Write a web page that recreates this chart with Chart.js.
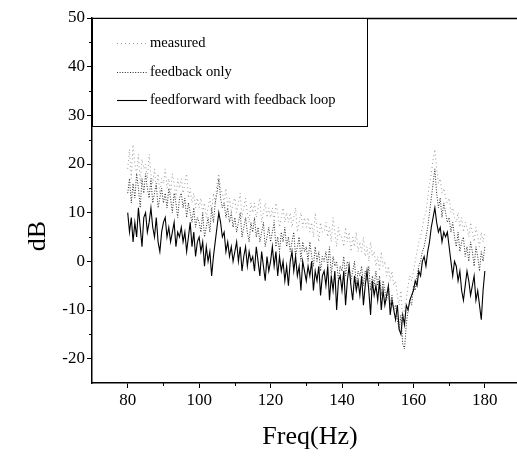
<!DOCTYPE html>
<html><head><meta charset="utf-8">
<script src="https://cdn.jsdelivr.net/npm/chart.js@4.4.1/dist/chart.umd.min.js"></script>
<style>html,body{margin:0;padding:0;background:#fff;}#wrap{width:517px;height:468px;position:relative;}</style>
</head><body><div id="wrap"><canvas id="c" width="517" height="468" style="width:517px;height:468px;"></canvas></div>
<script>
const freq = [80,80.5,81,81.5,82,82.5,83,83.5,84,84.5,85,85.5,86,86.5,87,87.5,88,88.5,89,89.5,
90,90.5,91,91.5,92,92.5,93,93.5,94,94.5,95,95.5,96,96.5,97,97.5,98,98.5,99,99.5,
100,100.5,101,101.5,102,102.5,103,103.5,104,104.5,105,105.5,106,106.5,107,107.5,108,108.5,109,109.5,
110,110.5,111,111.5,112,112.5,113,113.5,114,114.5,115,115.5,116,116.5,117,117.5,118,118.5,119,119.5,
120,120.5,121,121.5,122,122.5,123,123.5,124,124.5,125,125.5,126,126.5,127,127.5,128,128.5,129,129.5,
130,130.5,131,131.5,132,132.5,133,133.5,134,134.5,135,135.5,136,136.5,137,137.5,138,138.5,139,139.5,
140,140.5,141,141.5,142,142.5,143,143.5,144,144.5,145,145.5,146,146.5,147,147.5,148,148.5,149,149.5,
150,150.5,151,151.5,152,152.5,153,153.5,154,154.5,155,155.5,156,156.5,157,157.5,158,158.5,159,159.5,
160,160.5,161,161.5,162,162.5,163,163.5,164,164.5,165,165.5,166,166.5,167,167.5,168,168.5,169,169.5,
170,170.5,171,171.5,172,172.5,173,173.5,174,174.5,175,175.5,176,176.5,177,177.5,178,178.5,179,179.5,180];

const measured = [19,23,17,24,20,18,22,16,21,19, 20,17,22,18,16,19,15,18,14,17,
16,19,15,17,14,18,16,13,17,15, 17,14,16,18,13,15,12,14,11,13,
11,13,10,12,9,11,13,10,14,12, 16,18,15,14,12,15,11,13,10,12,
13,10,12,14,9,11,13,10,8,12, 10,12,9,11,13,8,10,12,9,11,
9,11,8,12,10,7,9,11,8,10, 8,10,7,9,11,6,8,10,7,9,
7,9,6,8,5,10,7,4,8,6, 6,8,5,7,4,9,6,3,7,5,
5,3,7,4,6,2,5,3,6,2, 4,2,5,1,3,0,4,1,2,-1,
1,-2,2,-1,0,-3,-1,-4,-2,-5, -4,-7,-9,-6,-12,-10,-8,-5,-3,-4,
-2,0,2,4,5,7,9,10,13,16, 18,21,23,19,16,17,14,15,13,12,
13,10,11,9,8,10,7,9,6,8, 7,5,8,6,4,7,5,3,6,4, 6];

const feedbackOnly = [14,17,12,16,13,18,15,11,17,14, 18,15,13,17,12,14,16,11,13,15,
12,14,11,15,13,10,14,12,9,13, 14,11,13,9,12,10,8,11,7,9,
8,6,10,5,7,9,6,11,8,12, 14,17,13,11,12,9,11,8,10,7,
9,6,8,10,5,7,9,6,4,8, 6,9,5,7,4,6,8,3,5,7,
4,6,8,3,5,2,6,4,7,3, 5,2,4,6,1,3,5,0,4,2,
3,0,4,1,-1,3,0,2,-2,1, 0,2,-1,3,-3,1,-1,0,-4,-1,
-2,1,-3,0,-1,-4,-2,0,-5,-2, -3,-1,-5,-2,-4,-1,-6,-3,-5,-2,
-5,-3,-7,-4,-6,-8,-5,-9,-7,-10, -9,-12,-14,-11,-17,-18,-13,-10,-8,-9,
-5,-6,-3,-1,0,2,3,5,7,10, 13,16,19,14,11,13,9,12,10,8,
9,6,8,5,3,6,2,4,5,1, 3,0,4,2,-1,3,1,-2,2,0, 3];

const feedforward = [10,6,9,4,8,5,11,7,3,9, 10,6,8,11,7,5,9,4,2,6,
8,9,5,7,4,6,8,3,6,5, 7,4,6,2,5,8,3,6,1,4,
5,2,4,-1,3,0,2,-3,1,4, 7,10,8,5,6,2,4,1,3,0,
2,4,0,3,-2,1,3,-1,2,0, 1,-2,3,0,-3,2,-1,-4,1,-2,
0,3,-1,2,-3,1,-2,0,-4,-1, -5,0,2,-2,1,-3,-1,-6,0,-2,
-4,-1,-3,0,-6,-2,-4,-1,-7,-3, -2,-5,-1,-8,-3,-6,-2,-10,-4,-3,
-6,-2,-9,-4,-1,-5,-8,-3,-6,-4, -7,-3,-9,-5,-2,-6,-11,-4,-7,-5,
-8,-4,-10,-6,-9,-7,-5,-11,-8,-10, -12,-9,-14,-15,-11,-13,-9,-10,-8,-7,
-6,-4,-5,-2,-3,0,1,-1,2,4, 7,9,11,8,6,7,4,6,5,6,
3,0,-3,0,-1,-4,-2,-6,-8,-5, -2,-4,-7,-5,-3,-8,-6,-9,-12,-6, -2];

const seriesNames = ['measured', 'feedback only', 'feedforward with feedback loop'];
const xMajorTicks = [80,100,120,140,160,180];
const xMinorTicks = [90,110,130,150,170];
const yMajorTicks = [-20,-10,0,10,20,30,40,50];
const yMinorTicks = [-15,-5,5,15,25,35,45];
const xTitle = 'Freq(Hz)';
const yTitle = 'dB';

const SERIF = "'Liberation Serif','Times New Roman',serif";

const extras = {
  id: 'extras',
  afterDraw(chart) {
    const ctx = chart.ctx, ca = chart.chartArea;
    const xs = chart.scales.x, ys = chart.scales.y;
    ctx.save();
    ctx.strokeStyle = '#000';
    ctx.lineWidth = 1.5;
    const ty = Math.round(ca.top) + 0.5;
    ctx.beginPath(); ctx.moveTo(ca.left, ty); ctx.lineTo(ca.right, ty); ctx.stroke();
    ctx.lineWidth = 1;
    xMinorTicks.forEach(v => { const p = Math.round(xs.getPixelForValue(v)) + 0.5;
      ctx.beginPath(); ctx.moveTo(p, ca.bottom); ctx.lineTo(p, ca.bottom + 3); ctx.stroke(); });
    yMinorTicks.forEach(v => { const p = Math.round(ys.getPixelForValue(v)) + 0.5;
      ctx.beginPath(); ctx.moveTo(ca.left, p); ctx.lineTo(ca.left - 3, p); ctx.stroke(); });
    ctx.fillStyle = '#000';
    ctx.font = '26px ' + SERIF;
    ctx.textAlign = 'center'; ctx.textBaseline = 'middle';
    ctx.fillText(xTitle, 310, 437);
    ctx.save(); ctx.translate(38, 236); ctx.rotate(-Math.PI / 2);
    ctx.fillText(yTitle, 0, 0); ctx.restore();
    const bx = ca.left, by = ca.top, bw = 367 - ca.left, bh = 126 - ca.top;
    ctx.fillStyle = '#fff';
    ctx.fillRect(bx, by, bw, bh);
    ctx.lineWidth = 1;
    ctx.strokeRect(bx + 0.5, by + 0.5, bw, bh);
    const rows = [43, 72, 100];
    chart.data.datasets.forEach((ds, i) => {
      const y = rows[i] + 0.5;
      ctx.save();
      ctx.strokeStyle = ds.borderColor; ctx.lineWidth = ds.borderWidth;
      ctx.setLineDash(ds.borderDash || []);
      ctx.beginPath(); ctx.moveTo(117, y); ctx.lineTo(147, y); ctx.stroke();
      ctx.restore();
      ctx.fillStyle = '#000';
      ctx.font = '14.5px ' + SERIF;
      ctx.textAlign = 'left'; ctx.textBaseline = 'middle';
      ctx.fillText(ds.label, 150, rows[i]);
    });
    ctx.restore();
  }
};

new Chart(document.getElementById('c'), {
  type: 'line',
  data: {
    labels: freq,
    datasets: [
      { label: seriesNames[0], data: measured, borderColor: '#999999', borderWidth: 1, borderDash: [1, 3], pointRadius: 0, tension: 0 },
      { label: seriesNames[1], data: feedbackOnly, borderColor: '#2a2a2a', borderWidth: 1, borderDash: [1, 1.6], pointRadius: 0, tension: 0 },
      { label: seriesNames[2], data: feedforward, borderColor: '#000', borderWidth: 1.1, pointRadius: 0, tension: 0 }
    ]
  },
  options: {
    responsive: false,
    animation: false,
    devicePixelRatio: 1,
    layout: { padding: { top: 18, left: 0, right: 0, bottom: 0 } },
    plugins: { legend: { display: false }, tooltip: { enabled: false } },
    scales: {
      x: {
        type: 'linear', min: 70, max: 189,
        afterBuildTicks: s => { s.ticks = xMajorTicks.map(v => ({ value: v })); },
        afterFit: s => { s.height = 85; },
        grid: { drawOnChartArea: false, drawTicks: true, tickLength: 5, color: '#000', tickWidth: 1 },
        border: { display: true, color: '#000', width: 1.5 },
        ticks: { color: '#000', padding: 2, maxRotation: 0, font: { family: SERIF, size: 17 } }
      },
      y: {
        min: -25, max: 50,
        afterBuildTicks: s => { s.ticks = yMajorTicks.map(v => ({ value: v })); },
        afterFit: s => { s.width = 92; },
        grid: { drawOnChartArea: false, drawTicks: true, tickLength: 5, color: '#000', tickWidth: 1 },
        border: { display: true, color: '#000', width: 1.5 },
        ticks: { color: '#000', padding: 2, font: { family: SERIF, size: 17 } }
      }
    }
  },
  plugins: [extras]
});
</script></body></html>
